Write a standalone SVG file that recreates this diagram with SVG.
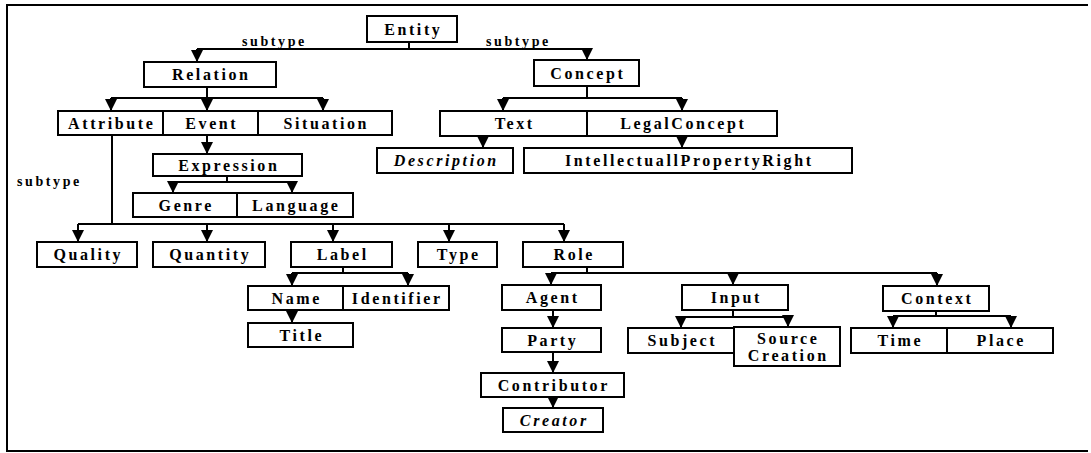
<svg xmlns="http://www.w3.org/2000/svg" width="1091" height="453" viewBox="0 0 1091 453">
<style>
.n rect{fill:#fff;stroke:#000;stroke-width:2}
text{font-family:'Liberation Serif','DejaVu Serif',serif;font-weight:bold;fill:#000}
.n text{font-size:16px;letter-spacing:2.6px;text-anchor:middle}
.n text.i{font-style:italic}
.lbl{font-size:14px;letter-spacing:2.6px}
#connectors path{fill:none;stroke:#000;stroke-width:2}
#connectors path.a{marker-end:url(#arr)}
</style>
<defs>
<marker id="arr" markerUnits="userSpaceOnUse" markerWidth="12" markerHeight="12" refX="10" refY="5" orient="auto" viewBox="0 0 10 10">
<path d="M0,0 L10,5 L0,10 z" fill="#000"/>
</marker>
</defs>
<rect width="1091" height="453" fill="#fff"/>
<path d="M1088,5 H7 V451 H1088" fill="none" stroke="#000" stroke-width="2"/>
<g id="connectors">
<path d="M409,42 V49 M197,49 H587"/>
<path class="a" d="M197,49 V62"/>
<path class="a" d="M587,49 V60"/>
<path d="M207,87 V98 M111,98 H323"/>
<path class="a" d="M111,98 V111"/>
<path class="a" d="M207,98 V111"/>
<path class="a" d="M323,98 V111"/>
<path class="a" d="M207,135 V154"/>
<path d="M227,176 V182 M173,182 H292"/>
<path class="a" d="M173,182 V193"/>
<path class="a" d="M292,182 V193"/>
<path d="M587,86 V98 M503,98 H682"/>
<path class="a" d="M503,98 V111"/>
<path class="a" d="M682,98 V111"/>
<path class="a" d="M483,136 V148"/>
<path class="a" d="M682,136 V148"/>
<path d="M112,135 V224 M78,224 H564"/>
<path class="a" d="M78,224 V242"/>
<path class="a" d="M207,224 V242"/>
<path class="a" d="M333,224 V242"/>
<path class="a" d="M449,224 V242"/>
<path class="a" d="M564,224 V242"/>
<path d="M343,267 V273 M292,273 H408"/>
<path class="a" d="M292,273 V286"/>
<path class="a" d="M408,273 V286"/>
<path class="a" d="M292,310 V323"/>
<path d="M587,267 V273 M551,273 H937"/>
<path class="a" d="M551,273 V285"/>
<path class="a" d="M733,273 V285"/>
<path class="a" d="M937,273 V286"/>
<path class="a" d="M553,310 V328"/>
<path class="a" d="M553,352 V373"/>
<path class="a" d="M553,397 V408"/>
<path d="M733,310 V317 M681,317 H788"/>
<path class="a" d="M681,317 V328"/>
<path class="a" d="M788,317 V327"/>
<path d="M936,311 V316 M893,316 H1011"/>
<path class="a" d="M893,316 V328"/>
<path class="a" d="M1011,316 V328"/>
</g>
<text class="lbl" x="242" y="46">subtype</text>
<text class="lbl" x="486" y="46">subtype</text>
<text class="lbl" x="17" y="186">subtype</text>
<g id="entity" class="n"><rect x="367" y="16" width="90" height="26"/><text x="413.3" y="34.5">Entity</text></g>
<g id="relation" class="n"><rect x="144" y="62" width="132" height="25"/><text x="211.3" y="80">Relation</text></g>
<g id="concept" class="n"><rect x="534" y="60" width="105" height="26"/><text x="587.8" y="78.5">Concept</text></g>
<g id="attribute" class="n"><rect x="58" y="111" width="105" height="24"/><text x="111.8" y="128.5">Attribute</text></g>
<g id="event" class="n"><rect x="163" y="111" width="95" height="24"/><text x="211.8" y="128.5">Event</text></g>
<g id="situation" class="n"><rect x="258" y="111" width="134" height="24"/><text x="326.3" y="128.5">Situation</text></g>
<g id="text" class="n"><rect x="440" y="111" width="147" height="25"/><text x="514.8" y="129">Text</text></g>
<g id="legalconcept" class="n"><rect x="587" y="111" width="190" height="25"/><text x="683.3" y="129">LegalConcept</text></g>
<g id="expression" class="n"><rect x="153" y="154" width="149" height="22"/><text x="228.8" y="170.5">Expression</text></g>
<g id="description" class="n"><rect x="377" y="148" width="136" height="25"/><text class="i" x="446.3" y="166">Description</text></g>
<g id="ipr" class="n"><rect x="524" y="148" width="328" height="25"/><text x="689.3" y="166">IntellectuallPropertyRight</text></g>
<g id="genre" class="n"><rect x="133" y="193" width="104" height="24"/><text x="186.3" y="210.5">Genre</text></g>
<g id="language" class="n"><rect x="237" y="193" width="116" height="24"/><text x="296.3" y="210.5">Language</text></g>
<g id="quality" class="n"><rect x="37" y="242" width="100" height="25"/><text x="88.3" y="260">Quality</text></g>
<g id="quantity" class="n"><rect x="153" y="242" width="112" height="25"/><text x="210.3" y="260">Quantity</text></g>
<g id="label" class="n"><rect x="291" y="242" width="101" height="25"/><text x="342.8" y="260">Label</text></g>
<g id="type" class="n"><rect x="418" y="242" width="79" height="25"/><text x="458.8" y="260">Type</text></g>
<g id="role" class="n"><rect x="523" y="242" width="100" height="25"/><text x="574.3" y="260">Role</text></g>
<g id="name" class="n"><rect x="248" y="286" width="95" height="24"/><text x="296.8" y="303.5">Name</text></g>
<g id="identifier" class="n"><rect x="343" y="286" width="106" height="24"/><text x="397.3" y="303.5">Identifier</text></g>
<g id="title" class="n"><rect x="248" y="323" width="105" height="24"/><text x="301.8" y="340.5">Title</text></g>
<g id="agent" class="n"><rect x="502" y="285" width="99" height="25"/><text x="552.8" y="303">Agent</text></g>
<g id="input" class="n"><rect x="682" y="285" width="106" height="25"/><text x="736.3" y="303">Input</text></g>
<g id="context" class="n"><rect x="883" y="286" width="106" height="25"/><text x="937.3" y="304">Context</text></g>
<g id="party" class="n"><rect x="502" y="328" width="99" height="24"/><text x="552.8" y="345.5">Party</text></g>
<g id="contributor" class="n"><rect x="481" y="373" width="143" height="24"/><text x="553.8" y="390.5">Contributor</text></g>
<g id="creator" class="n"><rect x="503" y="408" width="100" height="24"/><text class="i" x="554.3" y="425.5">Creator</text></g>
<g id="subject" class="n"><rect x="628" y="328" width="106" height="25"/><text x="682.3" y="346">Subject</text></g>
<g id="sourcecreation" class="n"><rect x="734" y="327" width="106" height="39"/><text x="788.3" y="344">Source</text><text x="788.3" y="361">Creation</text></g>
<g id="time" class="n"><rect x="851" y="328" width="96" height="25"/><text x="900.3" y="346">Time</text></g>
<g id="place" class="n"><rect x="947" y="328" width="106" height="25"/><text x="1001.3" y="346">Place</text></g>
</svg>
